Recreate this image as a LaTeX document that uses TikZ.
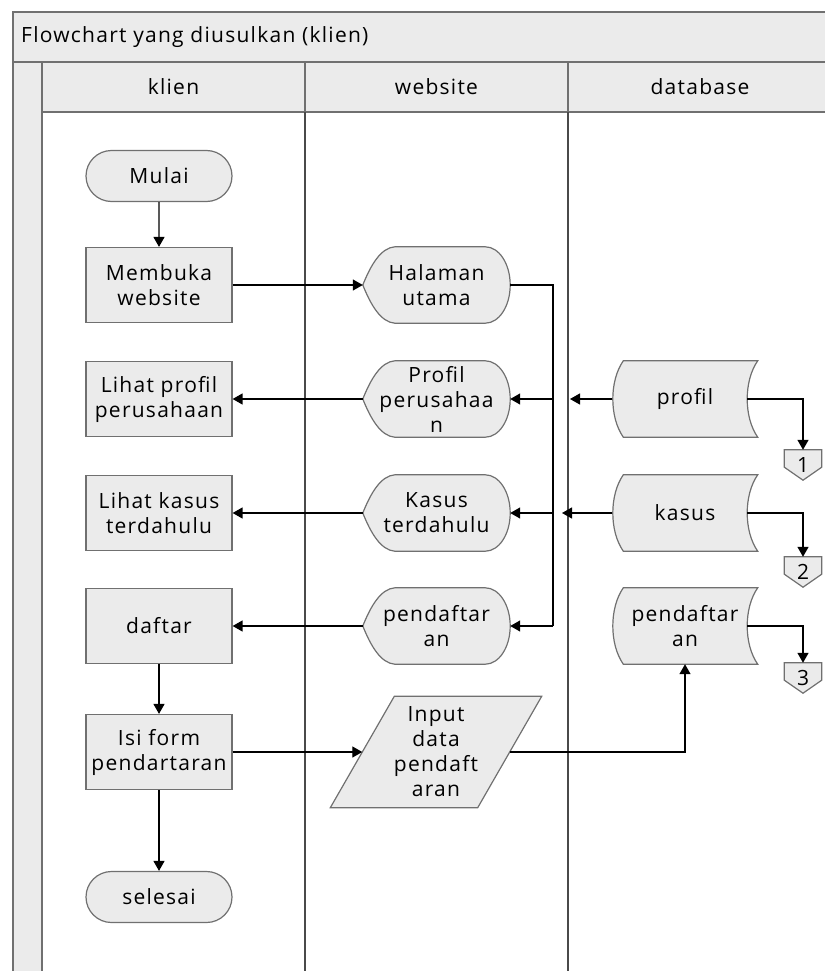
\documentclass[tikz,border=0pt]{standalone}
\usepackage{fontspec}
\setmainfont[LetterSpace=6]{Open Sans}
\usetikzlibrary{arrows.meta,backgrounds,shapes.misc}

\definecolor{isian}{HTML}{EBEBEB}
\definecolor{garis}{HTML}{707070}
\definecolor{jalur}{HTML}{4A4A4A}

\tikzset{
  teks/.style={font=\fontsize{21}{25}\selectfont, align=center, inner sep=0pt},
  proses/.style={teks, rectangle, draw=garis, fill=isian, line width=1.2pt, minimum width=146pt, minimum height=75pt},
  terminal/.style={teks, rounded rectangle, draw=garis, fill=isian, line width=1.2pt, minimum width=146pt, minimum height=51pt},
  tampilan/.style={teks, rectangle, minimum width=147pt, minimum height=76pt},
  simpan/.style={teks, rectangle, minimum width=145pt, minimum height=76pt},
  masukan/.style={teks, rectangle, minimum width=147pt, minimum height=111pt},
  halaman/.style={teks, rectangle, minimum width=37pt, minimum height=30pt},
  bentuk/.style={draw=garis, fill=isian, line width=1.2pt},
  bingkai/.style={draw=garis, line width=1.8pt},
  garisjalur/.style={draw=jalur, line width=1.8pt},
  panah/.style={-{Triangle[length=10pt,width=11pt]}, line width=1.3pt},
  sambung/.style={line width=1.3pt}
}

\begin{document}
\begin{tikzpicture}[x=1pt,y=-1pt]
\useasboundingbox (0,0) rectangle (824,971);

\fill[isian] (13,12) rectangle (832,112);
\fill[isian] (13,112) rectangle (42,980);
\draw[bingkai] (13,980) -- (13,12) -- (832,12);
\draw[bingkai] (13,62) -- (832,62);
\draw[bingkai] (42,112) -- (832,112);
\draw[bingkai] (42,62) -- (42,980);
\draw[bingkai] (305,62) -- (305,112);
\draw[bingkai] (568,62) -- (568,112);
\draw[garisjalur] (305,112) -- (305,980);
\draw[garisjalur] (568,112) -- (568,980);

\node[teks, anchor=west] (judul) at (21,37) {Flowchart yang diusulkan (klien)};
\node[teks] (hklien) at (173.5,87) {klien};
\node[teks] (hwebsite) at (436.5,87) {website};
\node[teks] (hdatabase) at (700,87) {database};

\node[terminal] (mulai) at (159,176) {Mulai};
\node[proses] (buka) at (159,285) {Membuka\\website};
\node[proses] (lihatprofil) at (159,399) {Lihat profil\\perusahaan};
\node[proses] (lihatkasus) at (159,513) {Lihat kasus\\terdahulu};
\node[proses] (daftar) at (159,626) {daftar};
\node[proses] (isiform) at (159,752) {Isi form\\pendartaran};
\node[terminal] (selesai) at (159,897) {selesai};

\node[tampilan] (wutama) at (436.5,285) {Halaman\\utama};
\node[tampilan] (wprofil) at (436.5,399) {Profil\\perusahaa\\n};
\node[tampilan] (wkasus) at (436.5,513) {Kasus\\terdahulu};
\node[tampilan] (wdaftar) at (436.5,626) {pendaftar\\an};
\node[masukan] (input) at (436,752) {Input\\data\\pendaft\\aran};

\node[simpan] (dbprofil) at (685,399) {profil};
\node[simpan] (dbkasus) at (685,513) {kasus};
\node[simpan] (dbdaftar) at (685,626) {pendaftar\\an};

\node[halaman] (hal1) at (803,465) {1};
\node[halaman] (hal2) at (803,572) {2};
\node[halaman] (hal3) at (803,678) {3};

\begin{scope}[on background layer]
\foreach \n in {wutama,wprofil,wkasus,wdaftar}
  \path[bentuk] (\n.west) .. controls ([xshift=8pt,yshift=20pt]\n.west) and ([xshift=18pt,yshift=-1pt]\n.north west) .. ([xshift=32pt]\n.north west)
    -- ([xshift=-25pt]\n.north east) .. controls ([xshift=-11pt]\n.north east) and ([yshift=21pt]\n.east) .. (\n.east)
    .. controls ([yshift=-21pt]\n.east) and ([xshift=-11pt]\n.south east) .. ([xshift=-25pt]\n.south east)
    -- ([xshift=32pt]\n.south west) .. controls ([xshift=18pt,yshift=1pt]\n.south west) and ([xshift=8pt,yshift=-20pt]\n.west) .. (\n.west) -- cycle;
\foreach \n in {dbprofil,dbkasus,dbdaftar}
  \path[bentuk] ([xshift=11pt]\n.north west) -- (\n.north east)
    .. controls ([xshift=-14pt,yshift=-20pt]\n.north east) and ([xshift=-14pt,yshift=20pt]\n.south east) .. (\n.south east)
    -- ([xshift=11pt]\n.south west)
    .. controls ([xshift=-3pt,yshift=20pt]\n.south west) and ([xshift=-3pt,yshift=-20pt]\n.north west) .. ([xshift=11pt]\n.north west) -- cycle;
\path[bentuk] ([xshift=32pt]input.north west) -- ([xshift=32pt]input.north east)
  -- ([xshift=-32pt]input.south east) -- ([xshift=-32pt]input.south west) -- cycle;
\foreach \n in {hal1,hal2,hal3}
  \path[bentuk] (\n.north west) -- (\n.north east) -- ([yshift=13pt]\n.south east)
    -- (\n.south) -- ([yshift=13pt]\n.south west) -- cycle;
\end{scope}

\coordinate (busatas) at (553,285);
\coordinate (busbawah) at (553,626);
\coordinate (tprofil) at (570,399);
\coordinate (tkasus) at (562,513);

\draw[panah] (mulai) -- (buka);
\draw[panah] (buka) -- (wutama);
\draw[sambung] (wutama.east) -- (busatas) -- (busbawah);
\draw[panah] (busatas |- wprofil) -- (wprofil.east);
\draw[panah] (busatas |- wkasus) -- (wkasus.east);
\draw[panah] (busbawah) -- (wdaftar.east);
\draw[panah] (wprofil) -- (lihatprofil);
\draw[panah] (wkasus) -- (lihatkasus);
\draw[panah] (wdaftar) -- (daftar);
\draw[panah] (daftar) -- (isiform);
\draw[panah] (isiform) -- (selesai);
\draw[panah] (isiform) -- (input);
\draw[panah] (input.east) -| (dbdaftar.south);
\draw[panah] (dbprofil.west) -- (tprofil);
\draw[panah] (dbkasus.west) -- (tkasus);
\draw[panah] ([xshift=-10.5pt]dbprofil.east) -| (hal1.north);
\draw[panah] ([xshift=-10.5pt]dbkasus.east) -| (hal2.north);
\draw[panah] ([xshift=-10.5pt]dbdaftar.east) -| (hal3.north);
\end{tikzpicture}
\end{document}
